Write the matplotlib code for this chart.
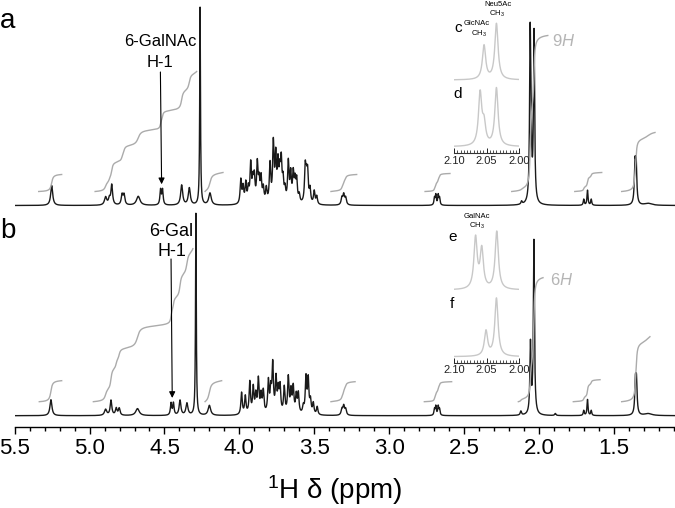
import numpy as np
import matplotlib.pyplot as plt
from matplotlib.ticker import MultipleLocator, FixedLocator

plt.rcParams['font.family'] = ['Liberation Sans', 'DejaVu Sans']
plt.rcParams['mathtext.fontset'] = 'custom'
plt.rcParams['mathtext.rm'] = 'Liberation Sans'
plt.rcParams['mathtext.it'] = 'Liberation Sans:italic'

W, H = 675, 508

# ---- spectrum a : resolved peaks (ppm, height, half width) ----
a_ppm = [5.253, 4.893, 4.868, 4.852, 4.783, 4.770, 4.675, 4.526, 4.513, 4.385, 4.334,
         4.262, 4.196, 3.315, 3.303, 3.290, 2.697, 2.688, 2.672, 2.663, 2.115,
         2.058, 2.052, 2.032, 1.700, 1.675, 1.650, 1.358, 1.350, 1.270]
a_height = [20, 8, 6, 20, 10, 10, 9, 15, 15, 20, 17,
            198, 12, 7, 10, 7, 7, 10, 10, 7, 3,
            158, 55, 170, 6, 15, 6, 38, 38, 2]
a_hw = [0.008, 0.009, 0.007, 0.0065, 0.0065, 0.0065, 0.014, 0.005, 0.005, 0.008, 0.008,
        0.003, 0.010, 0.006, 0.006, 0.006, 0.004, 0.004, 0.004, 0.004, 0.005,
        0.0045, 0.0045, 0.0045, 0.004, 0.004, 0.004, 0.005, 0.005, 0.03]
# sugar ring cluster 4.0 - 3.45 ppm
a_clu_ppm = [3.990, 3.975, 3.957, 3.940, 3.924, 3.910, 3.900, 3.880, 3.868, 3.855,
             3.840, 3.820, 3.795, 3.773, 3.757, 3.742, 3.730, 3.720, 3.708, 3.695,
             3.673, 3.657, 3.640, 3.628, 3.617, 3.600, 3.560, 3.552, 3.544, 3.528,
             3.500, 3.483]
a_clu_height = [24, 16, 20, 14, 38, 20, 24, 38, 20, 24,
                14, 14, 38, 58, 44, 36, 26, 38, 20, 12,
                40, 28, 28, 20, 22, 8, 34, 20, 28, 14,
                13, 8]

# ---- spectrum b ----
b_ppm = [5.258, 4.893, 4.857, 4.822, 4.802, 4.680, 4.456, 4.440, 4.396, 4.350,
         4.290, 4.200, 3.315, 3.303, 3.290, 2.697, 2.688, 2.672, 2.663, 2.120,
         2.056, 2.033, 1.890, 1.700, 1.675, 1.650, 1.355, 1.348, 1.270]
b_height = [16, 6, 15, 7, 7, 7, 12, 12, 15, 12,
            202, 10, 6, 9, 6, 6, 9, 9, 6, 4,
            70, 174, 2, 5, 16, 5, 31, 31, 2]
b_hw = [0.008, 0.009, 0.0065, 0.0065, 0.0065, 0.014, 0.005, 0.005, 0.007, 0.008,
        0.003, 0.010, 0.006, 0.006, 0.006, 0.004, 0.004, 0.004, 0.004, 0.005,
        0.0045, 0.0045, 0.005, 0.004, 0.004, 0.004, 0.005, 0.005, 0.03]
b_clu_ppm = [3.985, 3.960, 3.930, 3.907, 3.890, 3.873, 3.855, 3.840, 3.806, 3.790,
             3.777, 3.755, 3.740, 3.728, 3.700, 3.673, 3.655, 3.640, 3.620, 3.606,
             3.573, 3.555, 3.540, 3.525, 3.506, 3.480]
b_clu_height = [22, 18, 32, 26, 18, 34, 18, 22, 32, 22,
                48, 34, 22, 26, 26, 36, 22, 26, 18, 20,
                7, 36, 34, 13, 11, 8]
clu_hw = 0.0055

# integral regions: start ppm, end ppm, rise
a_int_start = [5.34, 4.963, 4.229, 3.388, 2.76, 2.181, 1.76, 1.447]
a_int_end = [5.186, 4.285, 4.109, 3.216, 2.593, 1.94, 1.58, 1.224]
a_int_rise = [17, 120, 19, 17, 18, 156, 19, 59]
b_int_start = [5.336, 4.975, 4.229, 3.388, 2.765, 2.137, 1.77, 1.447]
b_int_end = [5.186, 4.31, 4.118, 3.227, 2.582, 1.972, 1.591, 1.258]
b_int_rise = [21, 153, 21, 20, 20, 124, 22, 65]

# ---- insets: acetyl CH3 region (c, d for a; e, f for b) ----
c_ppm, c_height = [2.054, 2.035], [34, 56]
d_ppm, d_height = [2.060, 2.054, 2.035], [52, 20, 58]
e_ppm, e_height = [2.067, 2.0575, 2.0345], [51, 39, 58]
f_ppm, f_height = [2.051, 2.035], [25, 58]
ins_hw = 0.003


def spectrum(x, ppm, height, hw):
    y = np.zeros_like(x)
    for p, h, w in zip(ppm, height, hw):
        y += h / (1 + ((x - p) / w) ** 2)
    return y


x = np.linspace(5.5, 1.09, 9000)
spec_a = spectrum(x, a_ppm, a_height, a_hw) + \
    spectrum(x, a_clu_ppm, a_clu_height, [clu_hw] * len(a_clu_ppm))
spec_b = spectrum(x, b_ppm, b_height, b_hw) + \
    spectrum(x, b_clu_ppm, b_clu_height, [clu_hw] * len(b_clu_ppm))

fig = plt.figure(figsize=(W / 100, H / 100), dpi=100)
axis_px = 426.7
ax = fig.add_axes([14.7 / W, 1 - axis_px / H, 1 - 14.7 / W, axis_px / H])
ax.set_xlim(5.5, 5.5 - (W - 14.7) / 149.75)
ax.set_ylim(0, axis_px)


def px2ppm(px):
    return 5.5 - (px - 14.7) / 149.75


def px2y(py):
    return axis_px - py


base_a = px2y(205.5)
base_b = px2y(415.7)
int_lift = 14

for spec, base, starts, ends, rises in [(spec_a, base_a, a_int_start, a_int_end, a_int_rise),
                                        (spec_b, base_b, b_int_start, b_int_end, b_int_rise)]:
    ax.plot(x, spec + base, color='#1a1a1a', lw=1.0)
    for s, e, r in zip(starts, ends, rises):
        m = (x <= s) & (x >= e)
        cum = np.cumsum(spec[m])
        ax.plot(x[m], base + int_lift + cum / cum[-1] * r, color='#ababab', lw=1.0)

for side in ['left', 'right', 'top']:
    ax.spines[side].set_visible(False)
ax.spines['bottom'].set_linewidth(1.0)
ax.set_yticks([])
ax.xaxis.set_minor_locator(MultipleLocator(0.1))
ax.tick_params(axis='x', which='major', direction='out', length=5, width=1.0,
               labelsize=16, pad=3)
ax.tick_params(axis='x', which='minor', direction='out', length=3, width=1.0)
ax.set_xticks(np.arange(5.5, 1.4, -0.5))
ax.set_xticklabels(['%.1f' % v for v in np.arange(5.5, 1.4, -0.5)])

fig.text(335 / W, 1 - 490 / H, r'$^{1}$H δ (ppm)', ha='center', va='center', fontsize=20)
fig.text(8 / W, 1 - 28 / H, 'a', ha='center', va='baseline', fontsize=20)
fig.text(8 / W, 1 - 238 / H, 'b', ha='center', va='baseline', fontsize=20)

# annotations
ax.text(px2ppm(160), px2y(46), '6-GalNAc', ha='center', va='baseline', fontsize=12)
ax.text(px2ppm(160), px2y(66.5), 'H-1', ha='center', va='baseline', fontsize=12)
ax.text(px2ppm(193), px2y(236), '6-Gal', ha='right', va='baseline', fontsize=13)
ax.text(px2ppm(172), px2y(256), 'H-1', ha='center', va='baseline', fontsize=13)
for spec, base, p_tip, y0 in [(spec_a, base_a, 4.519, px2y(72)), (spec_b, base_b, 4.448, px2y(259))]:
    near = np.abs(x - p_tip) < 0.01
    top = base + spec[near].max() + 4
    ax.annotate('', xy=(p_tip, top), xytext=(p_tip + 0.008, y0),
                arrowprops=dict(arrowstyle='-|>', color='k', lw=0.8,
                                mutation_scale=9, shrinkA=0, shrinkB=0))

fig.text(551.7 / W, 1 - 40.7 / H, r'9$\mathit{H}$', ha='left', va='center', fontsize=12,
         color='#b5b5b5')
fig.text(550 / W, 1 - 280 / H, r'6$\mathit{H}$', ha='left', va='center', fontsize=12,
         color='#b5b5b5')

# insets
xi = np.linspace(2.10, 2.00, 800)
ins_h = 153.3
for axis_y, top_ppm, top_h, bot_ppm, bot_h, top_lift, bot_lift in [
        (153.3, c_ppm, c_height, d_ppm, d_height, 73.3, 6.6),
        (362.7, e_ppm, e_height, f_ppm, f_height, 72.7, 6.0)]:
    ia = fig.add_axes([454 / W, 1 - axis_y / H, 65.3 / W, ins_h / H])
    ia.patch.set_visible(False)
    ia.set_xlim(2.10, 2.00)
    ia.set_ylim(0, ins_h)
    ia.plot(xi, top_lift + spectrum(xi, top_ppm, top_h, [ins_hw] * len(top_ppm)),
            color='#c8c8c8', lw=1.0)
    ia.plot(xi, bot_lift + spectrum(xi, bot_ppm, bot_h, [ins_hw] * len(bot_ppm)),
            color='#c8c8c8', lw=1.0)
    for side in ['left', 'right', 'top']:
        ia.spines[side].set_visible(False)
    ia.spines['bottom'].set_color('#333333')
    ia.spines['bottom'].set_linewidth(0.8)
    ia.set_yticks([])
    ia.xaxis.set_major_locator(FixedLocator([2.10, 2.05, 2.00]))
    ia.xaxis.set_minor_locator(MultipleLocator(0.005))
    ia.set_xticklabels(['2.10', '2.05', '2.00'])
    ia.tick_params(axis='x', which='major', direction='in', length=3.5, width=0.7,
                   labelsize=8, pad=2, colors='#222222')
    ia.tick_params(axis='x', which='minor', direction='in', length=2, width=0.6,
                   colors='#333333')

fig.text(458 / W, 1 - 28 / H, 'c', ha='center', va='center', fontsize=11)
fig.text(458 / W, 1 - 94.3 / H, 'd', ha='center', va='center', fontsize=11)
fig.text(452.7 / W, 1 - 236.7 / H, 'e', ha='center', va='center', fontsize=11)
fig.text(451.7 / W, 1 - 304.3 / H, 'f', ha='center', va='center', fontsize=11)

small = 5.5
fig.text(497.7 / W, 1 - 5 / H, 'Neu5Ac', ha='center', va='center', fontsize=small)
fig.text(496.7 / W, 1 - 14 / H, r'CH$_3$', ha='center', va='center', fontsize=small)
fig.text(476.7 / W, 1 - 23.3 / H, 'GlcNAc', ha='center', va='center', fontsize=small)
fig.text(479 / W, 1 - 34 / H, r'CH$_3$', ha='center', va='center', fontsize=small)
fig.text(476.7 / W, 1 - 217 / H, 'GalNAc', ha='center', va='center', fontsize=small)
fig.text(476.7 / W, 1 - 225.5 / H, r'CH$_3$', ha='center', va='center', fontsize=small)

fig.savefig('out.png', dpi=100)
